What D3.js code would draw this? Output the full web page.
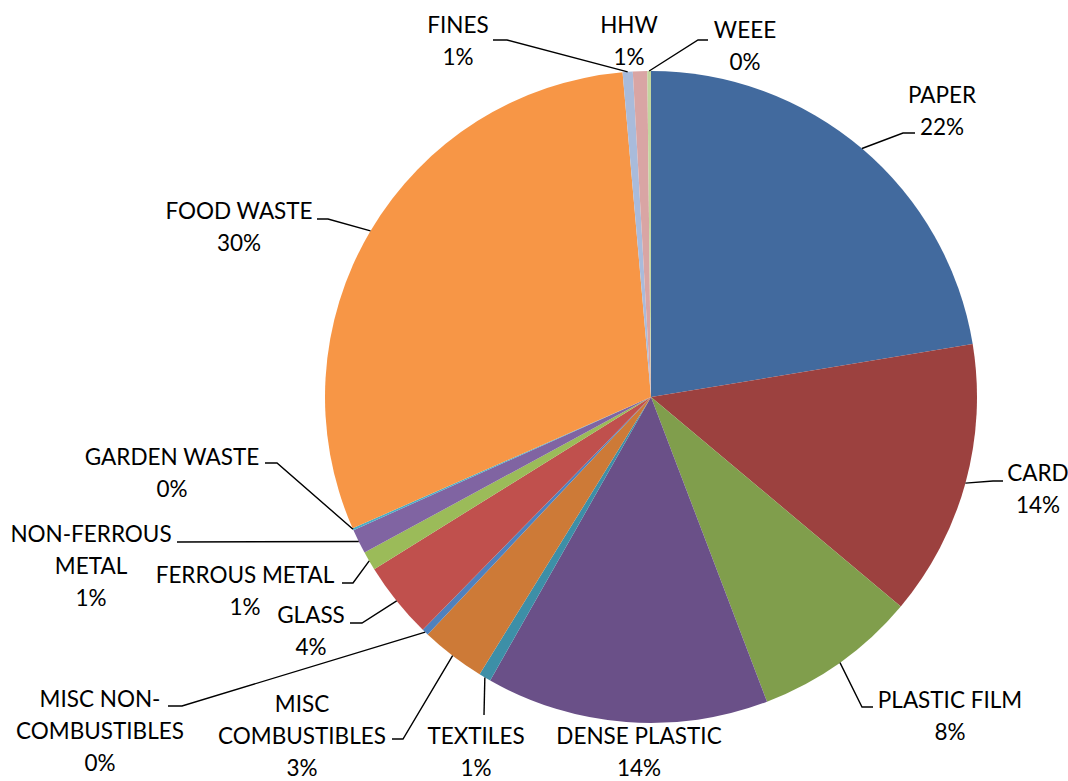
<!DOCTYPE html>
<meta charset="utf-8">
<head>
  <script src="https://d3js.org/d3.v7.min.js"></script>
  <style>
    body { margin: 0; background: white; }
    text { font-family: Lato, "Open Sans", sans-serif; fill: #000; }
  </style>
</head>
<body>
  <div id="chart"></div>
  <script>
    // waste composition, % of total
    var categories = ["PAPER", "CARD", "PLASTIC FILM", "DENSE PLASTIC", "TEXTILES",
      "MISC COMBUSTIBLES", "MISC NON-COMBUSTIBLES", "GLASS", "FERROUS METAL",
      "NON-FERROUS METAL", "GARDEN WASTE", "FOOD WASTE", "FINES", "HHW", "WEEE"];
    var values = [22.4, 13.7, 8.1, 14.0, 0.6, 3.2, 0.33, 3.8, 0.94, 1.22, 0.1, 30.2, 0.5, 0.71, 0.18];
    var colors = ["#426A9E", "#9C413F", "#809E4C", "#6A5088", "#3D8FA7", "#CD7A37", "#4F81BD",
      "#C0504D", "#9BBB59", "#8064A2", "#4BACC6", "#F79646", "#A9BBDB", "#D9A5A4", "#C3D69F"];

    // how each label is broken into lines
    var labelLines = [["PAPER"], ["CARD"], ["PLASTIC FILM"], ["DENSE PLASTIC"], ["TEXTILES"],
      ["MISC", "COMBUSTIBLES"], ["MISC NON-", "COMBUSTIBLES"], ["GLASS"], ["FERROUS METAL"],
      ["NON-FERROUS", "METAL"], ["GARDEN WASTE"], ["FOOD WASTE"], ["FINES"], ["HHW"], ["WEEE"]];

    // label placement: text centre x, first baseline y, leader bends after the slice edge
    var labelLayout = [
      { x: 942, y: 103, leader: [[903, 133], [915, 133]] },
      { x: 1038, y: 481, leader: [[993, 481], [1003, 481]] },
      { x: 950, y: 708, leader: [[862, 707], [873, 707]] },
      { x: 639, y: 744, leader: [] },
      { x: 476, y: 744, leader: [[484, 715]] },
      { x: 302, y: 712, leader: [[403, 739], [392, 739]] },
      { x: 100, y: 707, leader: [[182, 706], [168, 706]] },
      { x: 311, y: 623, leader: [[362, 623], [350, 623]] },
      { x: 245, y: 583, leader: [[353, 583], [342, 583]] },
      { x: 91, y: 542, leader: [[177, 542]] },
      { x: 172, y: 465, leader: [[277, 463], [265, 463]] },
      { x: 239, y: 219, leader: [[328, 219], [317, 219]] },
      { x: 458, y: 33, leader: [[507, 40], [493, 40]] },
      { x: 629, y: 33, leader: [] },
      { x: 745, y: 38, leader: [[698, 40], [708, 40]] }
    ];

    var width = 1068, height = 781,
      cx = 651, cy = 397, radius = 326,
      lineGap = 32;

    var svg = d3.select("#chart")
      .append("svg")
      .attr("width", width)
      .attr("height", height);

    var total = d3.sum(values);
    var data = categories.map(function (c, i) {
      return { name: c, value: values[i], i: i };
    });

    var pie = d3.pie()
      .sort(null)
      .value(function (d) { return d.value; });

    var arc = d3.arc()
      .innerRadius(0)
      .outerRadius(radius);

    var arcs = pie(data);

    var g = svg.append("g")
      .attr("transform", "translate(" + cx + "," + cy + ")");

    g.selectAll("path.slice")
      .data(arcs)
      .enter()
      .append("path")
      .attr("class", "slice")
      .attr("d", arc)
      .style("fill", function (d) { return colors[d.data.i]; });

    var pct = d3.format(".0%");

    // leader lines: start on the slice edge at its mid angle
    var line = d3.line();
    arcs.forEach(function (a) {
      var lay = labelLayout[a.data.i];
      if (!lay.leader.length) return;
      var mid = (a.startAngle + a.endAngle) / 2;
      var start = [cx + radius * Math.sin(mid), cy - radius * Math.cos(mid)];
      svg.append("path")
        .attr("d", line([start].concat(lay.leader)))
        .attr("fill", "none")
        .attr("stroke", "#000")
        .attr("stroke-width", 1.4);
    });

    arcs.forEach(function (a) {
      var lay = labelLayout[a.data.i];
      var lines = labelLines[a.data.i].concat([pct(a.data.value / total)]);
      var t = svg.append("text")
        .attr("text-anchor", "middle")
        .style("font-size", "22.5px");
      lines.forEach(function (s, k) {
        t.append("tspan")
          .attr("x", lay.x)
          .attr("y", lay.y + k * lineGap)
          .text(s);
      });
    });
  </script>
</body>
